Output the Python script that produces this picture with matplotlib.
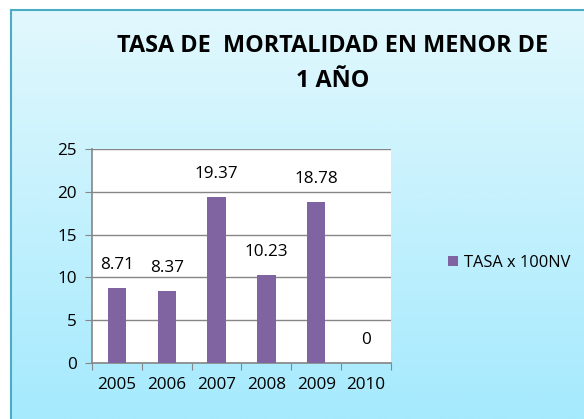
import numpy as np
import matplotlib.pyplot as plt

# Data
years = ['2005', '2006', '2007', '2008', '2009', '2010']
tasa = [8.71, 8.37, 19.37, 10.23, 18.78, 0]
series_name = 'TASA x 100NV'
title = 'TASA DE  MORTALIDAD EN MENOR DE\n1 AÑO'

W, H = 584, 419
fig = plt.figure(figsize=(W / 100, H / 100), dpi=100)
fig.patch.set_facecolor('white')
plt.rcParams['font.family'] = ['Open Sans', 'DejaVu Sans']

# Gradient background inside the frame
bg = fig.add_axes([11 / W, 0, 1 - 11 / W, 1 - 11 / H])
bg.set_axis_off()
top = np.array([0xE2, 0xF8, 0xFD]) / 255
bot = np.array([0xA5, 0xEA, 0xFD]) / 255
t = np.linspace(0, 1, 256)[:, None]
grad = (top * (1 - t) + bot * t)[:, None, :]
bg.imshow(grad, aspect='auto', extent=[0, 1, 0, 1])
bg.set_xlim(0, 1)
bg.set_ylim(0, 1)

# Frame lines (left and top)
fig.add_artist(plt.Line2D([10.5 / W, 10.5 / W], [0, 1 - 10.5 / H], color='#4BACC6', lw=1.5))
fig.add_artist(plt.Line2D([10.5 / W, 1], [1 - 10.5 / H, 1 - 10.5 / H], color='#4BACC6', lw=1.5))

# Plot area
x0, x1 = 92, 391
y_top, y_bot = 149, 363
ax = fig.add_axes([x0 / W, 1 - y_bot / H, (x1 - x0) / W, (y_bot - y_top) / H])
ax.set_facecolor('white')
x = np.arange(len(years))
bars = ax.bar(x, tasa, width=0.37, color='#8064A2', label=series_name, zorder=3)
ax.set_xlim(-0.5, len(years) - 0.5)
ax.set_ylim(0, 25)
ax.set_yticks(range(0, 26, 5))
ax.yaxis.grid(True, color='#868686', lw=1, zorder=0)
ax.set_xticks(np.arange(-0.5, len(years), 1), minor=False)
ax.set_xticklabels([])
ax.set_xticks(x, minor=True)
ax.set_xticklabels(years, minor=True)
ax.tick_params(axis='x', which='major', length=5, color='#868686')
ax.tick_params(axis='x', which='minor', length=0, labelsize=12.3, pad=10)
ax.tick_params(axis='y', length=5, color='#868686', labelsize=12.3, pad=6)
for s in ['top', 'right']:
    ax.spines[s].set_visible(False)
for s in ['left', 'bottom']:
    ax.spines[s].set_color('#868686')
    ax.spines[s].set_linewidth(1.2)

for xi, v in zip(x, tasa):
    ax.text(xi, v + 1.8, f'{v:g}', ha='center', va='bottom', fontsize=12.3, zorder=4)

fig.text(333 / W, 1 - 63.5 / H, title, ha='center', va='center', fontsize=16.8,
         fontweight='bold', linespacing=1.6)

fig.legend(handles=[bars], labels=[series_name], loc='center left',
           bbox_to_anchor=(433 / W, 1 - 263 / H), frameon=False, fontsize=11.8,
           handlelength=0.6, handleheight=0.6, handletextpad=0.4)

fig.savefig('out.png', dpi=100)
